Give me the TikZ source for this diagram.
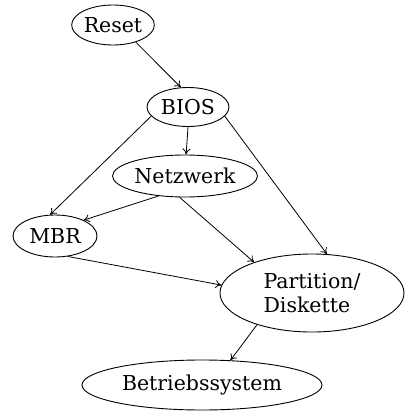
\documentclass[tikz,border=0pt]{standalone}
\usepackage{fontspec}
\setmainfont{DejaVu Serif}
\usetikzlibrary{shapes.geometric, arrows.meta}
\tikzset{
  stage/.style={draw, ellipse, inner sep=0pt, line width=.9pt, font=\fontsize{20.5}{24}\selectfont},
  flow/.style={line width=.8pt, -{To[length=6pt,width=8pt]}}
}

\begin{document}
\begin{tikzpicture}[x=1pt, y=-1pt]
      \useasboundingbox (0, 0) rectangle (404, 412);

      \node[stage, minimum width=80, minimum height=40] (reset) at (113, 25) {Reset};
      \node[stage, minimum width=82, minimum height=39] (bios) at (188, 107) {BIOS};
      \node[stage, minimum width=145, minimum height=42] (netz) at (185, 176) {Netzwerk};
      \node[stage, minimum width=84, minimum height=42] (mbr) at (55, 236) {MBR};
      \node[stage, minimum width=184, minimum height=78, align=left] (part) at (312, 293) {Partition/\\Diskette};
      \node[stage, minimum width=240, minimum height=50] (os) at (202, 385) {Betriebssystem};

      \draw[flow] (reset.-37) -- (bios.110);
      \draw[flow] (bios.south) -- (netz.87);
      \draw[flow] (bios.-166) -- (mbr.103);
      \draw[flow] (bios.-14) -- (part.69);
      \draw[flow] (netz.-143) -- (mbr.29);
      \draw[flow] (netz.-104) -- (part.152);
      \draw[flow] (mbr.-58) -- (part.175);
      \draw[flow] (part.-150) -- (os.41);
  \end{tikzpicture}
\end{document}
